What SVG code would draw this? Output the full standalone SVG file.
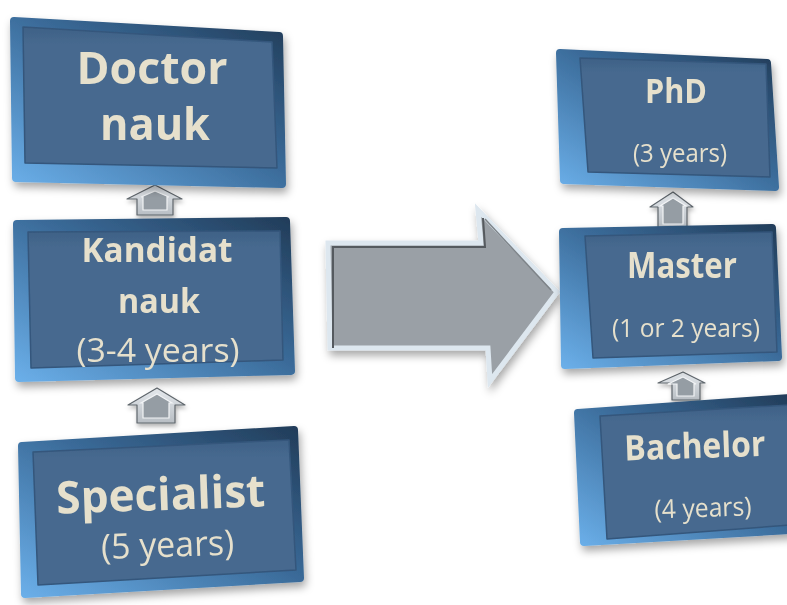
<svg xmlns="http://www.w3.org/2000/svg" width="787" height="605" viewBox="0 0 787 605">
<defs>
  <linearGradient id="gOuter" x1="1" y1="0" x2="0" y2="1">
    <stop offset="0" stop-color="#223d5a"/>
    <stop offset="0.45" stop-color="#3a6a98"/>
    <stop offset="1" stop-color="#6aaee8"/>
  </linearGradient>
  <linearGradient id="gFace" x1="0" y1="0" x2="0" y2="1">
    <stop offset="0" stop-color="#3f6186"/>
    <stop offset="0.12" stop-color="#46698f"/>
    <stop offset="1" stop-color="#46698f"/>
  </linearGradient>
  <linearGradient id="gArrow" x1="0" y1="0" x2="0" y2="1">
    <stop offset="0" stop-color="#e6eaee"/>
    <stop offset="1" stop-color="#b8bec4"/>
  </linearGradient>
  <filter id="sh" x="-10%" y="-10%" width="130%" height="140%">
    <feDropShadow dx="2" dy="5" stdDeviation="4" flood-color="#000" flood-opacity="0.35"/>
  </filter>
  <filter id="shs" x="-20%" y="-20%" width="150%" height="160%">
    <feDropShadow dx="1" dy="3" stdDeviation="2" flood-color="#000" flood-opacity="0.3"/>
  </filter>
</defs>
<style>
  .outer { fill: url(#gOuter); stroke: url(#gOuter); stroke-width: 8; stroke-linejoin: round; }
  .face { fill: url(#gFace); stroke: #34577c; stroke-width: 1.5; stroke-linejoin: round; }
  .t { fill: #e6e0cc; font-family: "Open Sans", "Liberation Sans", sans-serif; text-anchor: middle; }
  .b { font-weight: bold; }
  .sa { fill: url(#gArrow); stroke: #5f666c; stroke-width: 1.2; stroke-linejoin: round; }
  .sai { fill: #959da4; stroke: #f2f4f6; stroke-width: 1.2; }
</style>

<g id="connectors">
  <g id="arrow-specialist-kandidat" filter="url(#shs)">
    <polygon class="sa" points="157,388 185,405 175,405 175,423 137,423 137,405 128,405"/>
    <polygon class="sai" points="157,394 172,403 169,403 169,418 143,418 143,403 141,403"/>
  </g>
  <g id="arrow-kandidat-doctor" filter="url(#shs)">
    <polygon class="sa" points="155,185 182,199 173,199 173,215 137,215 137,199 127,199"/>
    <polygon class="sai" points="155,191 169,197 167,197 167,210 143,210 143,197 141,197"/>
  </g>
  <g id="arrow-bachelor-master" filter="url(#shs)">
    <polygon class="sa" points="683,372 705,383 700,383 700,400 672,400 672,383 658,383"/>
    <polygon class="sai" points="683,377 696,384 694,384 694,396 677,396 677,384 668,384"/>
  </g>
  <g id="arrow-master-phd" filter="url(#shs)">
    <polygon class="sa" points="673,192 693,207 687,207 687,228 658,228 658,207 650,207"/>
    <polygon class="sai" points="673,198 686,206 683,206 683,224 663,224 663,206 660,206"/>
  </g>
  <g id="big-arrow" filter="url(#sh)">
    <polygon points="328,243 481,243 478,210 557,292 490,381 488,348 330,348" fill="#9aa0a6" stroke="#dde7ef" stroke-width="5" stroke-linejoin="miter"/>
    <polyline points="333,348 333,247 485,247 483,218" fill="none" stroke="#555a5e" stroke-width="2"/>
    <polyline points="485,219 551,290" fill="none" stroke="#7d8388" stroke-width="1.5"/>
  </g>
</g>

<g id="node-doctor" filter="url(#sh)">
  <polygon class="outer" points="14,21 279,36 282,184 16,178"/>
  <polygon class="face" points="23,27 272,42 277,168 25,163"/>
  <text class="t b" x="152" y="84" font-size="45" textLength="151" lengthAdjust="spacingAndGlyphs">Doctor</text>
  <text class="t b" x="155" y="140" font-size="45" textLength="110" lengthAdjust="spacingAndGlyphs">nauk</text>
</g>

<g id="node-kandidat" filter="url(#sh)">
  <polygon class="outer" points="17,224 286,221 291,371 19,378"/>
  <polygon class="face" points="28,232 280,231 283,360 31,368"/>
  <text class="t b" x="157" y="262" font-size="34" textLength="151" lengthAdjust="spacingAndGlyphs">Kandidat</text>
  <text class="t b" x="159" y="313" font-size="34" textLength="82" lengthAdjust="spacingAndGlyphs">nauk</text>
  <text class="t" x="158" y="362" font-size="32" textLength="163" lengthAdjust="spacingAndGlyphs">(3-4 years)</text>
</g>

<g id="node-specialist" filter="url(#sh)">
  <polygon class="outer" points="22,446 294,430 300,578 25,594"/>
  <polygon class="face" points="33,452 289,440 296,570 38,585"/>
  <g transform="rotate(-2 162 530)">
    <text class="t b" x="162" y="510" font-size="45" textLength="209" lengthAdjust="spacingAndGlyphs">Specialist</text>
    <text class="t" x="167" y="557" font-size="35" textLength="133" lengthAdjust="spacingAndGlyphs">(5 years)</text>
  </g>
</g>

<g id="node-phd" filter="url(#sh)">
  <polygon class="outer" points="560,53 767,63 775,187 564,180"/>
  <polygon class="face" points="580,58 766,64 770,177 588,172"/>
  <text class="t b" x="676" y="103" font-size="34" textLength="62" lengthAdjust="spacingAndGlyphs">PhD</text>
  <text class="t" x="680" y="162" font-size="25" textLength="94" lengthAdjust="spacingAndGlyphs">(3 years)</text>
</g>

<g id="node-master" filter="url(#sh)">
  <polygon class="outer" points="563,232 772,228 778,357 565,365"/>
  <polygon class="face" points="585,236 772,232 777,352 593,358"/>
  <text class="t b" x="682" y="278" font-size="35" textLength="110" lengthAdjust="spacingAndGlyphs">Master</text>
  <text class="t" x="686" y="337" font-size="26" textLength="148" lengthAdjust="spacingAndGlyphs">(1 or 2 years)</text>
</g>

<g id="node-bachelor" filter="url(#sh)">
  <polygon class="outer" points="578,413 790,398 790,530 584,542"/>
  <polygon class="face" points="600,416 790,405 790,525 607,539"/>
  <g transform="rotate(-2 700 480)">
    <text class="t b" x="696" y="458" font-size="35" textLength="141" lengthAdjust="spacingAndGlyphs">Bachelor</text>
    <text class="t" x="702" y="517" font-size="26" textLength="97" lengthAdjust="spacingAndGlyphs">(4 years)</text>
  </g>
</g>
</svg>
